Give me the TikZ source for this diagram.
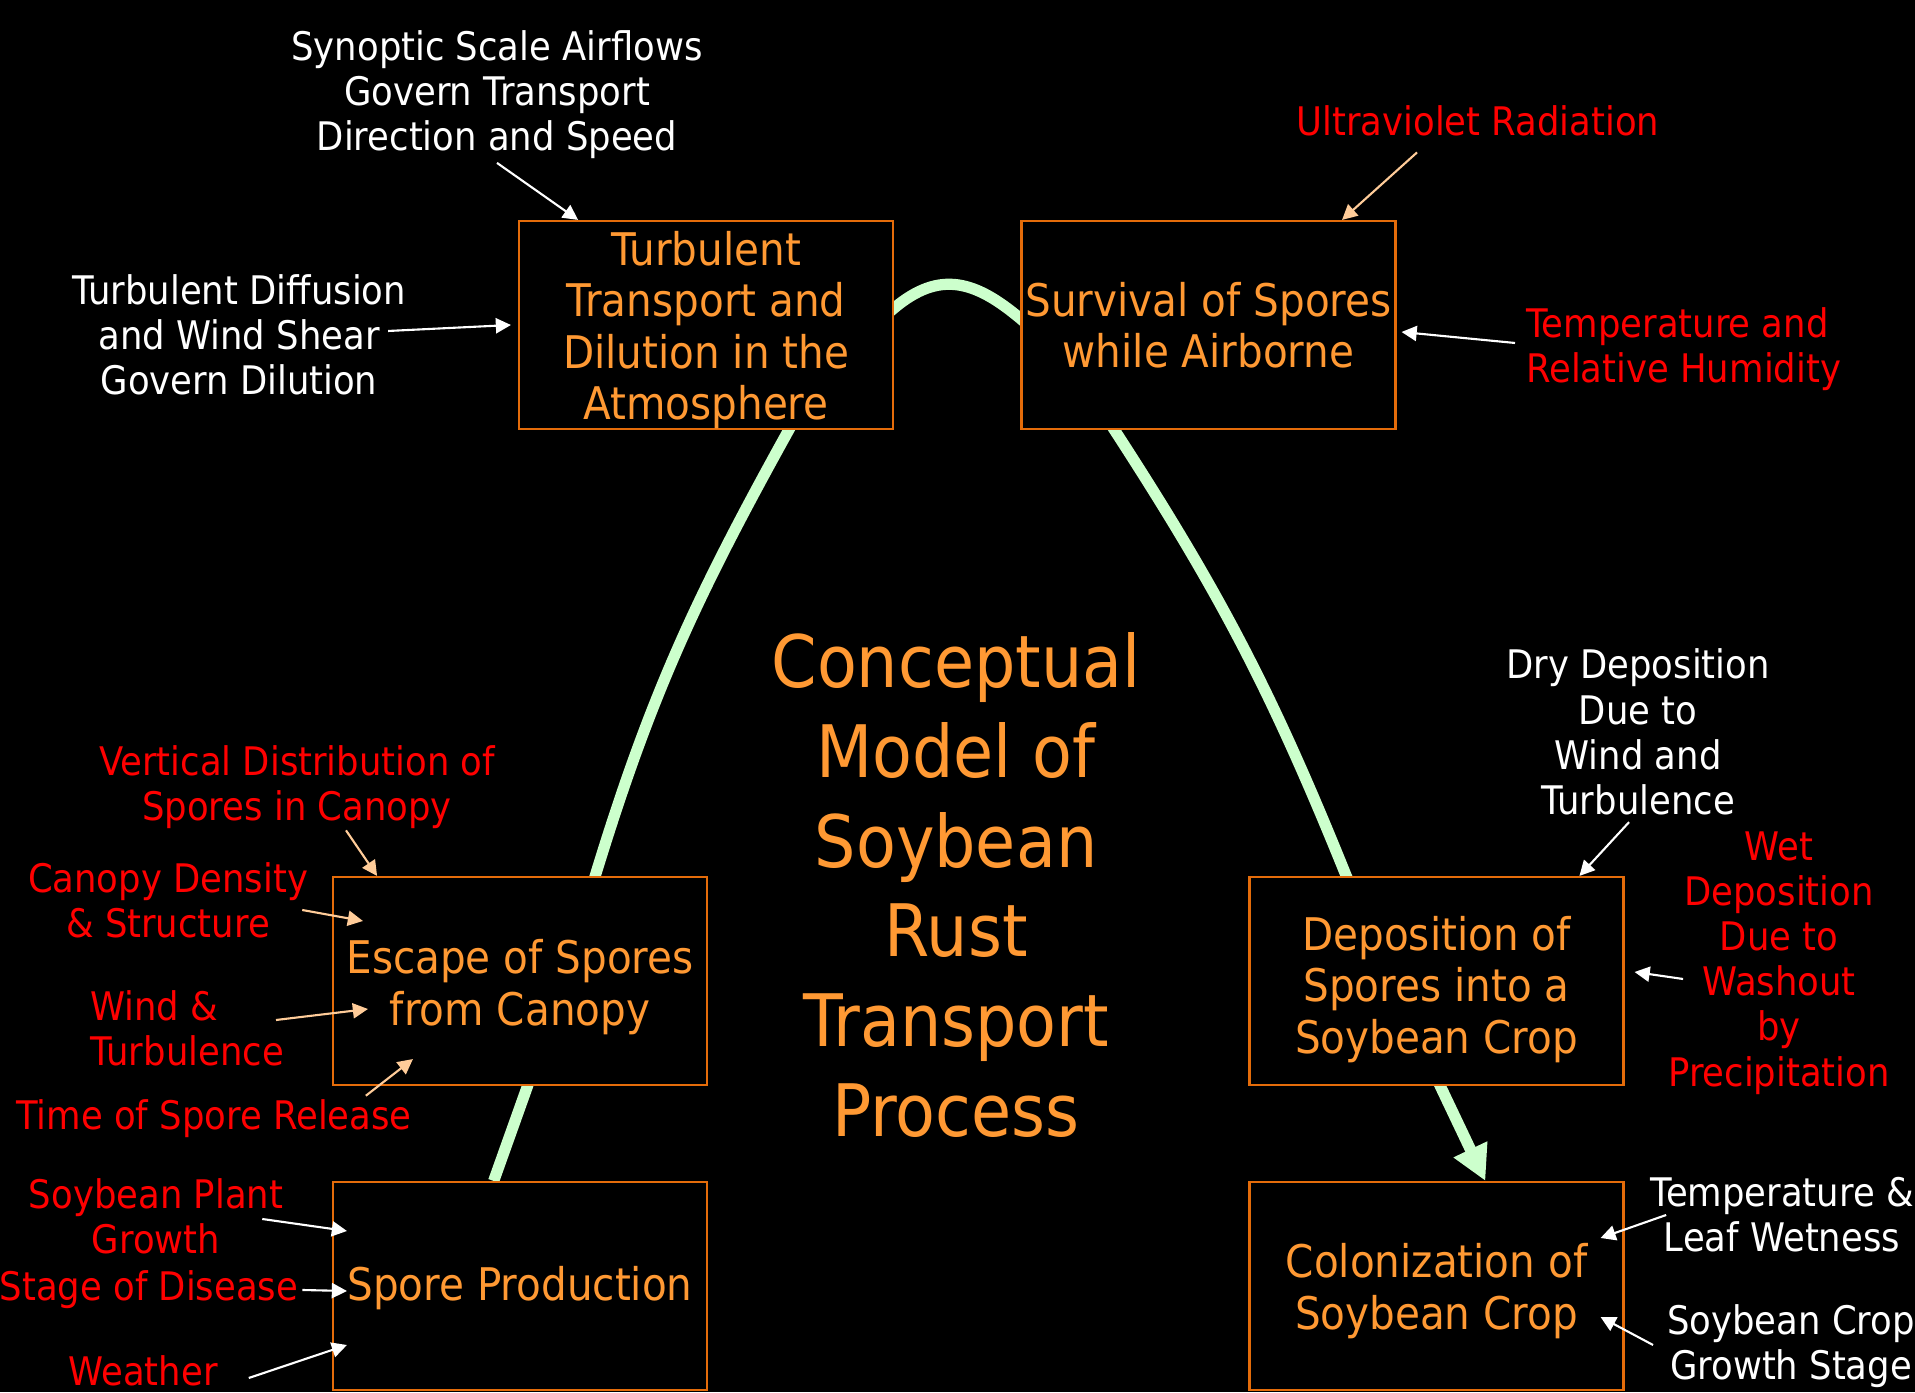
\documentclass[tikz,border=0pt]{standalone}
\usepackage{fontspec}
\setmainfont{DejaVu Sans}[FakeStretch=0.9]
\usetikzlibrary{positioning,arrows.meta,calc,backgrounds}

\definecolor{boxline}{RGB}{228,108,10}
\definecolor{boxtext}{RGB}{255,153,51}
\definecolor{flowgreen}{RGB}{204,255,204}
\definecolor{peach}{RGB}{255,204,153}

\newcommand{\boxlines}[2][0.05cm]{\raisebox{-#1}[\height][\depth]{\parbox{3.7cm}{\centering #2}}}

\tikzset{
  procbox/.style={draw=boxline, fill=black, text=boxtext, line width=0.6pt,
    minimum width=3.74cm, minimum height=2.08cm, inner sep=0pt, align=center,
    font=\fontsize{12.8}{14.6}\selectfont},
  factor/.style={align=center, inner sep=1pt, font=\fontsize{11.2}{12.85}\selectfont},
  wlbl/.style={factor, text=white},
  rlbl/.style={factor, text=red},
  headline/.style={align=center, text=boxtext, font=\fontsize{20.6}{25.5}\selectfont},
  warr/.style={->, white, line width=0.6pt},
  parr/.style={->, peach, line width=0.6pt},
  flow/.style={flowgreen, line width=3.2pt},
}

\begin{document}
\begin{tikzpicture}[>={Triangle[length=4.3pt,width=4.3pt]}]
	\useasboundingbox (0,0) rectangle (19.15,13.92);
	\begin{scope}[on background layer]
		\fill[black] (0,0) rectangle (19.15,13.92);
	\end{scope}

	\node[procbox] (turb)  at (7.06,10.67)   {\boxlines{Turbulent\\Transport and\\Dilution in the\\Atmosphere}};
	\node[procbox] (surv)  at (12.085,10.67) {Survival of Spores\\while Airborne};
	\node[procbox] (esc)   at (5.20,4.11)    {\boxlines[0.06cm]{Escape of Spores\\from Canopy}};
	\node[procbox] (prod)  at (5.20,1.06)    {\boxlines[0.025cm]{Spore Production}};
	\node[procbox] (depo)  at (14.365,4.11)  {\boxlines[0.085cm]{Deposition of\\Spores into a\\Soybean Crop}};
	\node[procbox] (colon) at (14.365,1.06)  {\boxlines{Colonization of\\Soybean Crop}};

	\node[headline] (title) at (9.56,5.07) {Conceptual\\Model of\\Soybean\\Rust\\Transport\\Process};

	\node[wlbl] (synoptic)    at (4.97,12.975) {Synoptic Scale Airflows\\Govern Transport\\Direction and Speed};
	\node[wlbl] (diffusion)   at (2.39,10.57)  {Turbulent Diffusion\\and Wind Shear\\Govern Dilution};
	\node[rlbl] (uv)          at (14.78,12.71) {Ultraviolet Radiation};
	\node[rlbl, align=left, anchor=west] (temphum) at (15.22,10.43) {Temperature and\\Relative Humidity};
	\node[rlbl] (vertical)    at (2.97,6.045)  {Vertical Distribution of\\Spores in Canopy};
	\node[rlbl] (density)     at (1.68,4.92)   {Canopy Density\\\& Structure};
	\node[rlbl, align=left, anchor=west] (windturb) at (0.86,3.64) {Wind \&\\Turbulence};
	\node[rlbl] (release)     at (2.14,2.73)   {Time of Spore Release};
	\node[rlbl] (plantgrowth) at (1.56,1.76)   {Soybean Plant\\Growth};
	\node[rlbl] (disease)     at (1.49,1.02)   {Stage of Disease};
	\node[rlbl] (weather)     at (1.43,0.21)   {Weather};
	\node[wlbl] (drydep)      at (16.38,6.60)  {Dry Deposition\\Due to\\Wind and\\Turbulence};
	\node[rlbl] (wetdep)      at (17.79,4.29)  {Wet\\Deposition\\Due to\\Washout\\by\\Precipitation};
	\node[wlbl] (leafwet)     at (17.82,1.77)  {Temperature \&\\Leaf Wetness};
	\node[wlbl] (growthstage) at (17.91,0.46)  {Soybean Crop\\Growth Stage};

	\draw[warr] (synoptic.south) -- ($(turb.north west)!.16!(turb.north east)$);
	\draw[warr] ([xshift=-0.22cm,yshift=0.04cm]diffusion.east) -- ([xshift=-0.07cm]turb.west);
	\draw[parr] ([xshift=-0.61cm,yshift=-0.12cm]uv.south) -- ($(surv.north west)!.855!(surv.north east)$);
	\draw[warr] ([xshift=-0.07cm,yshift=0.06cm]temphum.west) -- ([xshift=0.05cm,yshift=-0.07cm]surv.east);
	\draw[parr] ([xshift=0.49cm,yshift=0.03cm]vertical.south) -- ($(esc.north west)!.12!(esc.north east)$);
	\draw[parr] ([xshift=-0.1cm,yshift=-0.1cm]density.east) -- ([xshift=0.31cm,yshift=0.6cm]esc.west);
	\draw[parr] ([xshift=-0.12cm,yshift=0.08cm]windturb.east) -- ([xshift=0.36cm,yshift=-0.28cm]esc.west);
	\draw[parr] ([xshift=-0.5cm]release.north east) -- ([xshift=0.81cm,yshift=0.27cm]esc.south west);
	\draw[warr] ([xshift=-0.25cm,yshift=-0.03cm]plantgrowth.east) -- ([xshift=0.15cm,yshift=0.55cm]prod.west);
	\draw[warr] (disease.east) -- ([xshift=0.15cm,yshift=-0.05cm]prod.west);
	\draw[warr] ([xshift=0.27cm,yshift=-0.07cm]weather.east) -- ([xshift=0.15cm,yshift=-0.59cm]prod.west);
	\draw[warr] ([xshift=-0.09cm,yshift=-0.03cm]drydep.south) -- ($(depo.north west)!.88!(depo.north east)$);
	\draw[warr] ([xshift=0.19cm,yshift=-0.16cm]wetdep.west) -- ([xshift=0.1cm,yshift=0.09cm]depo.east);
	\draw[warr] ([xshift=0.2cm]leafwet.west) -- ([xshift=-0.24cm,yshift=0.48cm]colon.east);
	\draw[warr] ([xshift=-0.1cm,yshift=0.01cm]growthstage.west) -- ([xshift=-0.24cm,yshift=-0.31cm]colon.east);

	\begin{scope}[on background layer]
		\coordinate (f0) at ($(prod.north west)!.43!(prod.north east)$);
		\coordinate (f1) at ($(esc.south west)!.52!(esc.south east)$);
		\coordinate (f2) at ($(esc.north west)!.70!(esc.north east)$);
		\coordinate (f3) at ($(turb.south west)!.72!(turb.south east)$);
		\coordinate (f4) at ($(turb.north east)!.42!(turb.south east)$);
		\coordinate (f5) at ($(surv.north west)!.47!(surv.south west)$);
		\coordinate (f6) at ($(surv.south west)!.25!(surv.south east)$);
		\coordinate (f7) at ($(depo.north west)!.26!(depo.north east)$);
		\coordinate (f8) at ($(depo.south west)!.51!(depo.south east)$);
		\coordinate (f9) at ($(colon.north west)!.63!(colon.north east)$);
		\draw[flow, -{Triangle[length=0.35cm,width=0.35cm]}] (f0) -- (f1) -- (f2)
			to[out=73,in=241] (f3) to[out=61,in=220] (f4)
			to[out=40,in=140,looseness=1.2] (f5) to[out=-40,in=123] (f6)
			to[out=-57,in=112] (f7) -- (f8) -- (f9);
	\end{scope}
\end{tikzpicture}
\end{document}
